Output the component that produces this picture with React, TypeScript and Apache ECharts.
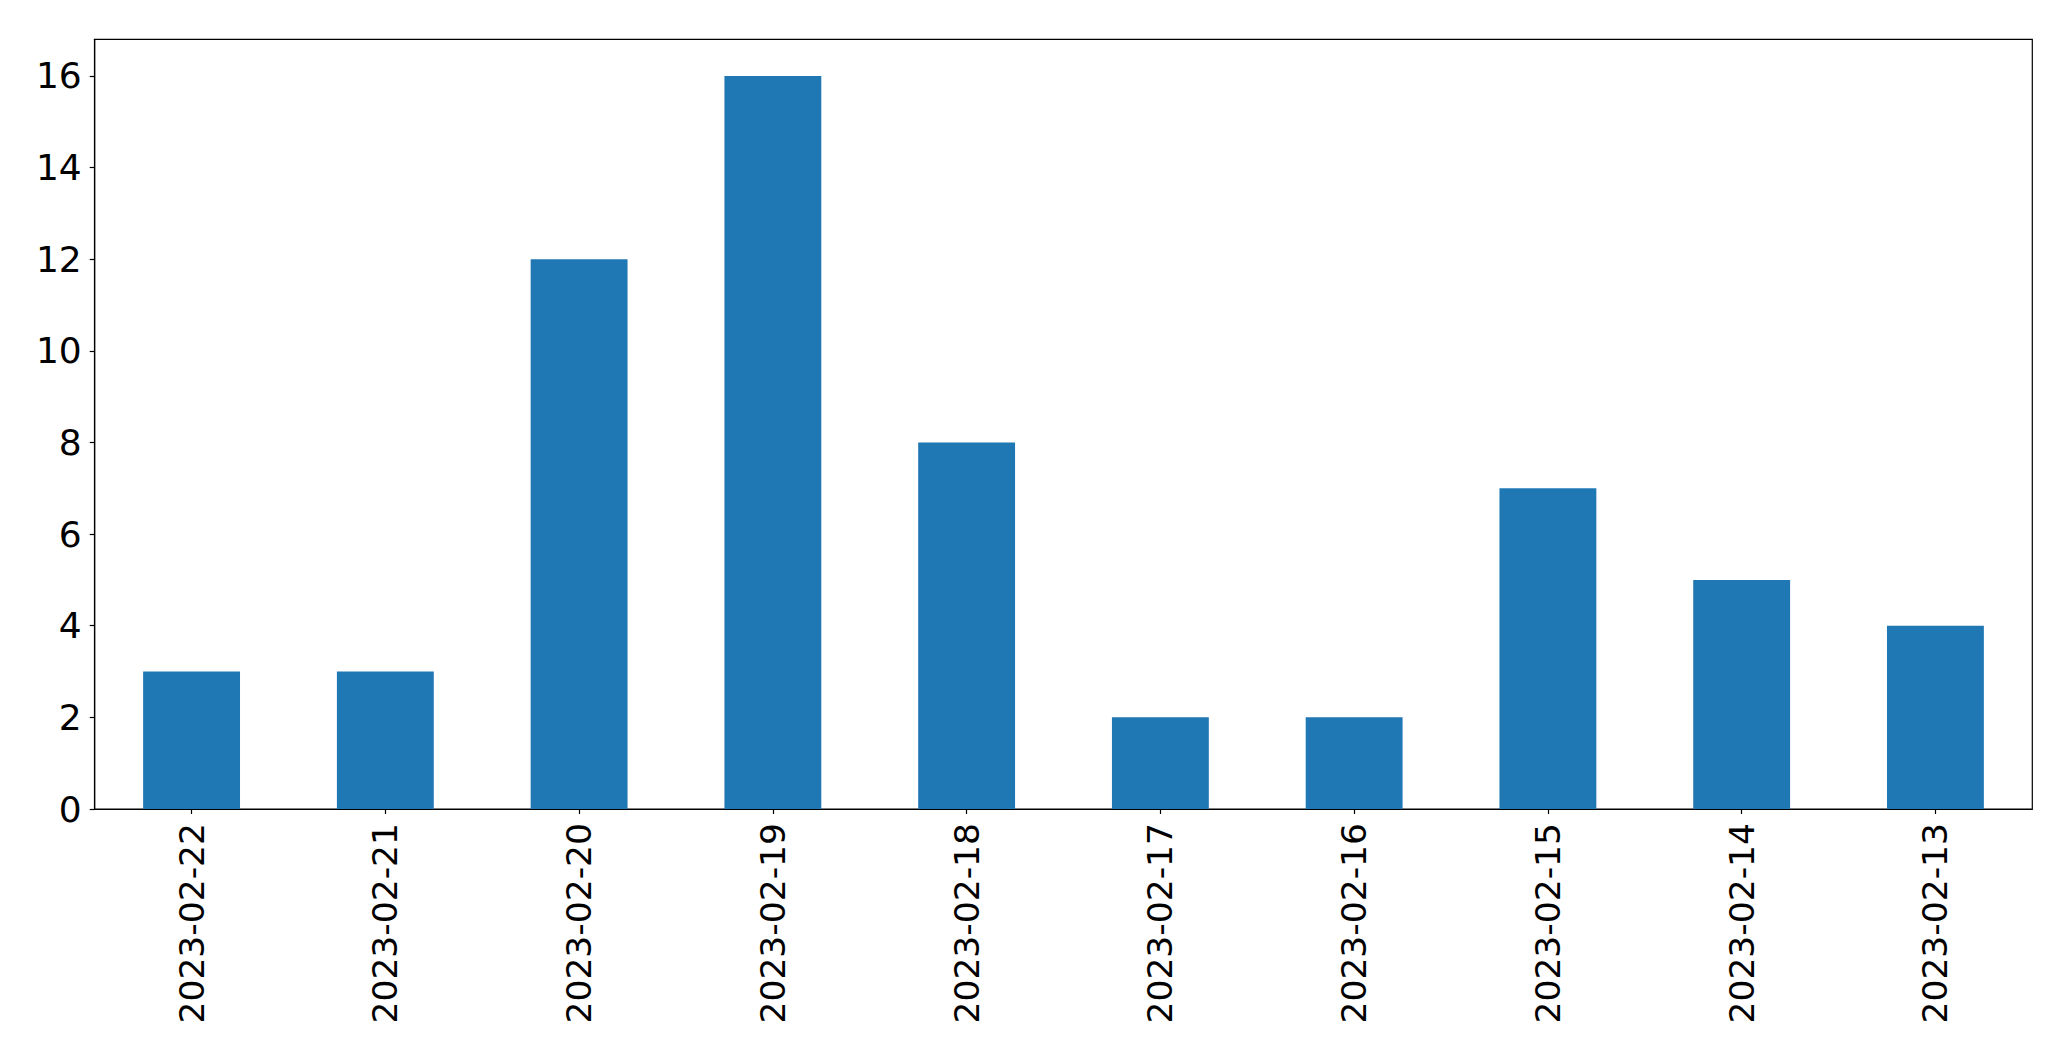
import React, { useEffect, useRef } from "react";
import * as echarts from "echarts";

const categories = [
  "2023-02-22",
  "2023-02-21",
  "2023-02-20",
  "2023-02-19",
  "2023-02-18",
  "2023-02-17",
  "2023-02-16",
  "2023-02-15",
  "2023-02-14",
  "2023-02-13",
];
const counts = [3, 3, 12, 16, 8, 2, 2, 7, 5, 4];
const yTicks = [0, 2, 4, 6, 8, 10, 12, 14, 16];
const yMax = 16.8;

export default function App() {
  const ref = useRef<HTMLDivElement>(null);
  useEffect(() => {
    if (!ref.current) return;
    const chart = echarts.init(ref.current, null, { renderer: "svg" });
    const font = "DejaVu Sans";
    chart.setOption({
      animation: false,
      backgroundColor: "#ffffff",
      grid: {
        left: 94.7,
        top: 39.3,
        right: 38.7,
        bottom: 252,
        show: true,
        borderColor: "#000000",
        borderWidth: 1.2,
        containLabel: false,
      },
      xAxis: {
        type: "category",
        data: categories,
        axisLine: { show: true, lineStyle: { color: "#000", width: 1.2 } },
        axisTick: {
          show: true,
          alignWithLabel: true,
          length: 5,
          lineStyle: { color: "#000", width: 1.2 },
        },
        axisLabel: {
          rotate: 90,
          interval: 0,
          margin: 14,
          fontSize: 34.5,
          fontFamily: font,
          color: "#000",
        },
        splitLine: { show: false },
      },
      yAxis: {
        type: "value",
        min: 0,
        max: yMax,
        axisLine: { show: true, lineStyle: { color: "#000", width: 1.2 } },
        axisTick: {
          show: true,
          length: 5,
          customValues: yTicks,
          lineStyle: { color: "#000", width: 1.2 },
        },
        axisLabel: {
          customValues: yTicks,
          margin: 13,
          fontSize: 36,
          fontFamily: font,
          color: "#000",
        },
        splitLine: { show: false },
      },
      series: [
        {
          type: "bar",
          data: counts,
          barCategoryGap: "50%",
          itemStyle: { color: "#1f77b4" },
        },
      ],
    });
    return () => chart.dispose();
  }, []);
  return (
    <div
      ref={ref}
      style={{ position: "fixed", left: 0, top: 0, width: 2071, height: 1061 }}
    />
  );
}
